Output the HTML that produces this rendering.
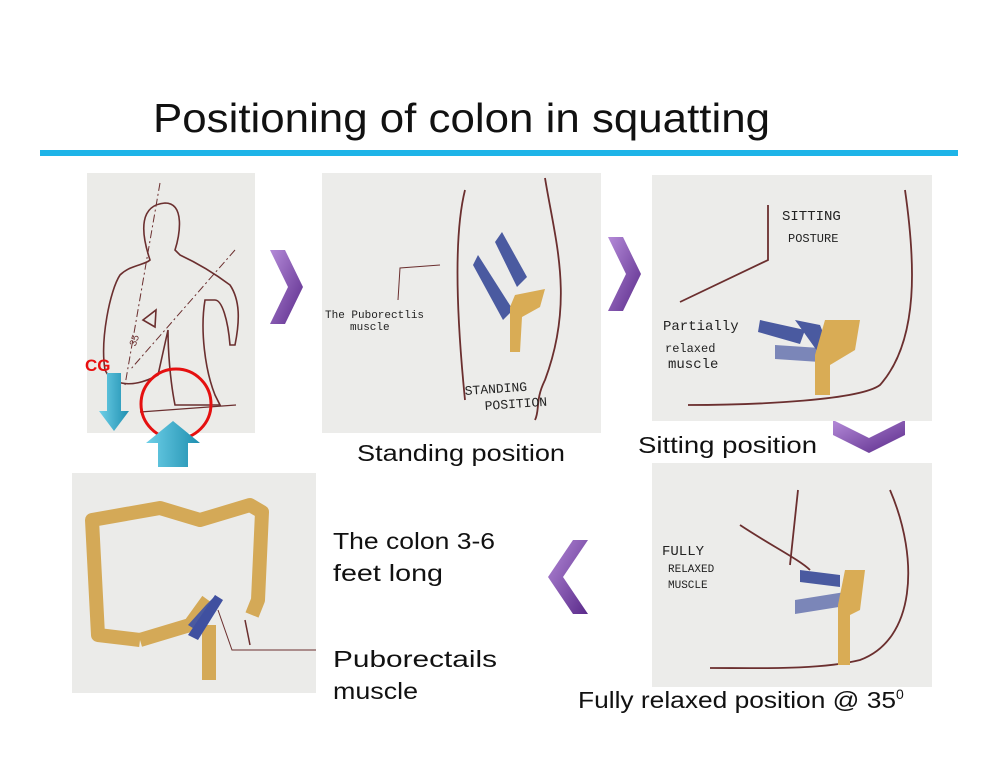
<!DOCTYPE html>
<html><head><style>
body{margin:0;width:1000px;height:773px;background:#fff;overflow:hidden;font-family:"Liberation Sans",sans-serif;}
svg{position:absolute;left:0;top:0}
</style></head><body>
<svg width="1000" height="773" viewBox="0 0 1000 773">
<defs>
<linearGradient id="pg" x1="0" y1="0" x2="1" y2="1"><stop offset="0" stop-color="#b48ad8"/><stop offset="1" stop-color="#5a2a8a"/></linearGradient>
<linearGradient id="bg" x1="0" y1="0" x2="1" y2="0"><stop offset="0" stop-color="#6ed0e8"/><stop offset="1" stop-color="#1f8fb0"/></linearGradient>
</defs>
<text x="153" y="132" font-size="41" fill="#111" textLength="617" lengthAdjust="spacingAndGlyphs">Positioning of colon in squatting</text>
<rect x="40" y="150" width="918" height="6" fill="#1eb4e8"/>

<!-- image 1 -->
<rect x="87" y="173" width="168" height="260" fill="#ebebe8"/>
<g fill="none" stroke="#6b2f2f" stroke-width="1.6">
<path d="M150,260 C140,230 140,205 165,203 C185,203 180,235 175,250 L180,255 C195,262 210,270 230,285 C240,300 240,320 235,345 L230,345 C228,320 222,300 215,300 L205,300 C200,330 205,370 215,395 L220,405 L175,405 C170,380 168,350 168,330 L158,375 C140,385 115,390 105,370 C100,340 110,290 120,275 C130,265 145,265 150,260 Z"/>
<path d="M143,320 L156,310 L155,327 Z"/>
<line x1="160" y1="183" x2="125" y2="385" stroke-dasharray="8,3,2,3" stroke-width="1"/>
<line x1="235" y1="250" x2="130" y2="370" stroke-dasharray="8,3,2,3" stroke-width="1"/>
<line x1="140" y1="412" x2="236" y2="405" stroke-width="1.2"/>
</g>
<text x="130" y="345" font-size="10" fill="#6b2f2f" transform="rotate(-70 134 342)">35</text>
<text x="85" y="371" font-size="17" font-weight="bold" fill="#e81010">CG</text>
<path d="M107,373 h14 v38 h8 l-15,20 l-15,-20 h8 Z" fill="url(#bg)"/>
<circle cx="176" cy="404" r="35" fill="none" stroke="#e51010" stroke-width="3"/>
<path d="M173,421 l-27,22 h12 v24 h30 v-24 h12 Z" fill="url(#bg)"/>

<!-- chevrons -->
<path d="M270,250 h15 l18,37 l-18,37 h-15 l18,-37 Z" fill="url(#pg)"/>
<path d="M608,237 h15 l18,37 l-18,37 h-15 l18,-37 Z" fill="url(#pg)"/>
<path d="M833,420 l36,18 l36,-18 v15 l-36,18 l-36,-18 Z" fill="url(#pg)"/>
<path d="M588,540 h-15 l-25,37 l25,37 h15 l-25,-37 Z" fill="url(#pg)"/>

<!-- image 2 -->
<rect x="322" y="173" width="279" height="260" fill="#ececea"/>
<g fill="none" stroke="#6b2f2f" stroke-width="1.8">
<path d="M465,190 C455,230 455,300 465,400"/>
<path d="M545,178 C555,240 575,300 545,380 C535,400 540,410 535,420"/>
<path d="M440,265 L400,268 L398,300" stroke-width="1"/>
</g>
<path d="M502,232 l25,45 l-10,10 l-22,-45 Z" fill="#4a5aa0"/>
<path d="M478,255 l35,55 l-10,10 l-30,-55 Z" fill="#4a5aa0"/>
<path d="M515,295 l30,-6 l-5,18 l-18,10 l-2,35 l-10,0 l0,-45 Z" fill="#d9ac55"/>
<text x="325" y="318" font-size="11" fill="#222" font-family="Liberation Mono,monospace">The Puborectlis</text>
<text x="350" y="330" font-size="11" fill="#222" font-family="Liberation Mono,monospace">muscle</text>
<text x="465" y="395" font-size="13" fill="#222" font-family="Liberation Mono,monospace" transform="rotate(-4 465 395)">STANDING</text>
<text x="485" y="410" font-size="13" fill="#222" font-family="Liberation Mono,monospace" transform="rotate(-4 485 410)">POSITION</text>
<text x="357" y="461" font-size="23" fill="#111" textLength="208" lengthAdjust="spacingAndGlyphs">Standing position</text>

<!-- image 3 -->
<rect x="652" y="175" width="280" height="246" fill="#ececea"/>
<g fill="none" stroke="#6b2f2f" stroke-width="1.8">
<path d="M768,205 L768,260 L680,302"/>
<path d="M905,190 C915,260 920,340 880,385 C860,400 760,405 688,405"/>
</g>
<path d="M760,320 l45,10 l-5,14 l-42,-12 Z" fill="#4a5aa0"/>
<path d="M775,345 l45,3 l0,14 l-45,-3 Z" fill="#7b86b8"/>
<path d="M795,320 l25,5 l10,25 l-10,5 Z" fill="#4a5aa0"/>
<path d="M825,320 h35 l-5,30 l-25,15 v30 h-15 v-40 Z" fill="#d9ac55"/>
<text x="782" y="220" font-size="14" fill="#222" font-family="Liberation Mono,monospace">SITTING</text>
<text x="788" y="242" font-size="12" fill="#222" font-family="Liberation Mono,monospace">POSTURE</text>
<text x="663" y="330" font-size="14" fill="#222" font-family="Liberation Mono,monospace">Partially</text>
<text x="665" y="352" font-size="12" fill="#222" font-family="Liberation Mono,monospace">relaxed</text>
<text x="668" y="368" font-size="14" fill="#222" font-family="Liberation Mono,monospace">muscle</text>
<text x="638" y="453" font-size="23" fill="#111" textLength="179" lengthAdjust="spacingAndGlyphs">Sitting  position</text>

<!-- image 4 -->
<rect x="652" y="463" width="280" height="224" fill="#ececea"/>
<g fill="none" stroke="#6b2f2f" stroke-width="1.8">
<path d="M740,525 C770,545 800,560 810,570"/>
<path d="M798,490 L790,565"/>
<path d="M890,490 C920,560 915,640 860,660 C820,670 760,668 710,668"/>
</g>
<path d="M800,570 l40,5 l0,12 l-40,-5 Z" fill="#4a5aa0"/>
<path d="M795,600 l50,-8 l0,14 l-50,8 Z" fill="#7b86b8"/>
<path d="M845,570 h20 l-5,40 l-10,5 v50 h-12 v-60 Z" fill="#d9ac55"/>
<text x="662" y="555" font-size="14" fill="#222" font-family="Liberation Mono,monospace">FULLY</text>
<text x="668" y="572" font-size="11" fill="#222" font-family="Liberation Mono,monospace">RELAXED</text>
<text x="668" y="588" font-size="11" fill="#222" font-family="Liberation Mono,monospace">MUSCLE</text>
<text x="578" y="708" font-size="23" fill="#111"><tspan textLength="318" lengthAdjust="spacingAndGlyphs">Fully relaxed position @ 35</tspan><tspan font-size="14" dy="-9">0</tspan></text>

<!-- image 5 -->
<rect x="72" y="473" width="244" height="220" fill="#ebebe9"/>
<g fill="none" stroke="#d4a957" stroke-width="14" stroke-linejoin="round">
<path d="M140,640 L98,635 L92,520 L160,508 L200,520 L250,505 L262,512 L258,600 L252,615"/>
<path d="M140,640 L190,625 L208,600"/>
<path d="M209,625 L209,680"/>
</g>
<path d="M206,605 l10,-10 l-20,35 l-8,-5 Z" fill="#4a5aa0"/>
<path d="M215,595 l8,5 l-25,40 l-10,-5 Z" fill="#3f50a0"/>
<path d="M218,610 L232,650 L316,650" fill="none" stroke="#6b2f2f" stroke-width="1"/>
<path d="M245,620 l5,25" stroke="#6b2f2f" stroke-width="1.5" fill="none"/>
<text x="333" y="549" font-size="23" fill="#111" textLength="162" lengthAdjust="spacingAndGlyphs">The colon 3-6</text>
<text x="333" y="581" font-size="23" fill="#111" textLength="110" lengthAdjust="spacingAndGlyphs">feet long</text>
<text x="333" y="667" font-size="23" fill="#111" textLength="164" lengthAdjust="spacingAndGlyphs">Puborectails</text>
<text x="333" y="699" font-size="23" fill="#111" textLength="85" lengthAdjust="spacingAndGlyphs">muscle</text>
</svg>
</body></html>
